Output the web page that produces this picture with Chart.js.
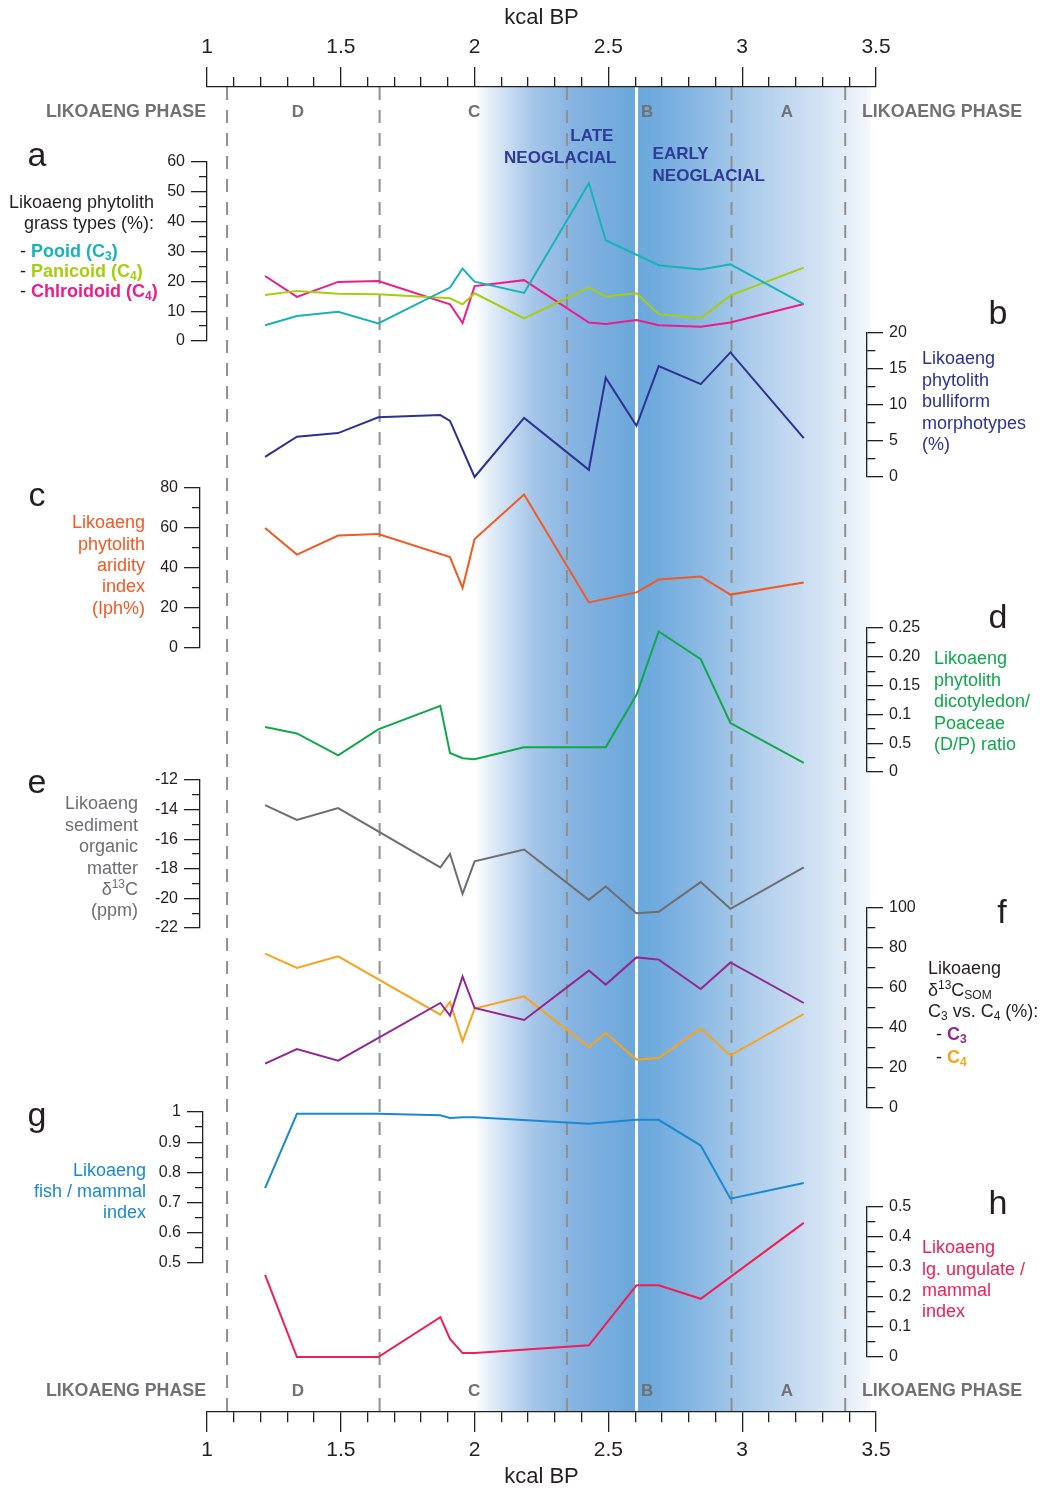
<!DOCTYPE html>
<html>
<head>
<meta charset="utf-8">
<title>Likoaeng records</title>
<script src="https://cdn.jsdelivr.net/npm/chart.js@4.4.0/dist/chart.umd.min.js"></script>
<style>
  html, body { margin: 0; padding: 0; background: #fff; }
</style>
</head>
<body>
<canvas id="chart" width="1044" height="1490"></canvas>
<script>
// Sample ages (kcal BP) shared by all the records
const ages = [1.217, 1.336, 1.49, 1.64, 1.872, 1.908, 1.955, 2.0, 2.185, 2.427, 2.49, 2.605, 2.688, 2.845, 2.956, 3.23];

// a - phytolith grass types (%)
const pooid      = [5.3, 8.4, 9.8, 5.9, null, 17.9, 24.3, 19.9, 16.1, 52.9, 33.8, null, 25.4, 24.0, 25.7, 12.4];
const panicoid   = [15.4, 16.8, 15.8, 15.7, null, 14.3, 12.3, 16.0, 7.6, 17.9, 14.9, 16.0, 9.0, 7.6, 15.3, 24.6];
const chloridoid = [21.8, 14.8, 19.8, 20.1, null, 12.3, 6.0, 18.4, 20.4, 6.2, 5.7, 7.0, 5.3, 4.8, 6.2, 12.4];
// b - bulliform morphotypes (%)
const bulliform = [2.8, 5.6, 6.1, 8.3, 8.6, 7.8, null, 0.0, 8.2, 1.0, 13.8, 7.1, 15.4, 12.9, 17.3, 5.4];
// c - aridity index (Iph%)
const aridity = [60.0, 46.7, 56.2, 57.0, null, 45.5, 30.0, 54.5, 76.7, 22.8, null, 27.8, 34.2, 35.8, 26.7, 32.7];
// d - dicotyledon / Poaceae ratio
const dpRatio = [0.078, 0.067, 0.029, 0.074, 0.115, 0.033, 0.024, 0.022, 0.043, null, 0.043, 0.134, 0.244, 0.196, 0.085, 0.016];
// e - sediment organic matter d13C
const somD13C = [-13.7, -14.7, -13.9, null, -17.9, -17.0, -19.7, -17.5, -16.7, -20.1, -19.2, -21.0, -20.9, -18.9, -20.7, -17.9];
// f - C3 vs C4 (%)
const c3Share = [22.2, 29.5, 23.7, null, 52.5, 46.2, 65.8, 50.0, 44.0, 68.7, 61.7, 75.3, 74.2, 59.5, 72.8, 52.5];
const c4Share = [77.2, 70.0, 75.8, null, 46.7, 53.0, 33.3, 49.7, 55.8, 30.5, 37.5, 24.2, 25.0, 39.7, 26.3, 47.0];
// g - fish / mammal index
const fishIndex = [0.748, 0.994, null, 0.994, 0.989, 0.980, 0.983, 0.983, null, 0.961, null, 0.974, 0.974, 0.889, 0.713, 0.765];
// h - large ungulate / mammal index
const ungulateIndex = [0.274, 0, null, 0, 0.133, 0.060, 0.013, 0.013, null, 0.039, null, 0.239, 0.239, 0.194, null, 0.447];

// Tick labels
const ageTicks = [1, 1.5, 2, 2.5, 3, 3.5];
const grassTicks = [0, 10, 20, 30, 40, 50, 60];
const bulliformTicks = [0, 5, 10, 15, 20];
const aridityTicks = [0, 20, 40, 60, 80];
const dpTicks = [0, 0.05, 0.1, 0.15, 0.2, 0.25];
const dpTickLabels = ['0', '0.5', '0.1', '0.15', '0.20', '0.25'];
const somTicks = [-22, -20, -18, -16, -14, -12];
const c3c4Ticks = [0, 20, 40, 60, 80, 100];
const fishTicks = [0.5, 0.6, 0.7, 0.8, 0.9, 1];
const ungulateTicks = [0, 0.1, 0.2, 0.3, 0.4, 0.5];

// Likoaeng phases
const phaseBounds = [1.075, 1.645, 2.345, 2.96, 3.385];
const phaseLetters = ['D', 'C', 'B', 'A'];
const phaseCentres = [1.34, 1.998, 2.645, 3.167];
const neoglacialSplit = 2.605;

const FONT = "'Liberation Sans', Arial, Helvetica, sans-serif";
const INK = '#231f20';

// where each panel's y axis sits on the page
const panelAxes = [
  { id: 'yGrass', side: 'left', ticks: grassTicks, top: 162, bottom: 341, x: 207 },
  { id: 'yBulliform', side: 'right', ticks: bulliformTicks, top: 333, bottom: 477, x: 867 },
  { id: 'yAridity', side: 'left', ticks: aridityTicks, top: 488, bottom: 648, x: 200 },
  { id: 'yDP', side: 'right', ticks: dpTicks, labels: dpTickLabels, top: 628, bottom: 772, x: 867 },
  { id: 'ySOM', side: 'left', ticks: somTicks, top: 780, bottom: 928, x: 200 },
  { id: 'yC3C4', side: 'right', ticks: c3c4Ticks, top: 908, bottom: 1108, x: 867 },
  { id: 'yFish', side: 'left', ticks: fishTicks, top: 1112, bottom: 1263, x: 203 },
  { id: 'yUngulate', side: 'right', ticks: ungulateTicks, top: 1207, bottom: 1357, x: 867 }
];

const series = [
  { label: 'Pooid (C3)', values: pooid, color: '#17b3b7', axis: 'yGrass' },
  { label: 'Panicoid (C4)', values: panicoid, color: '#a6ce0c', axis: 'yGrass' },
  { label: 'Chlroidoid (C4)', values: chloridoid, color: '#ec1c8b', axis: 'yGrass' },
  { label: 'Bulliform', values: bulliform, color: '#2e3192', axis: 'yBulliform' },
  { label: 'Aridity', values: aridity, color: '#f15a24', axis: 'yAridity' },
  { label: 'D/P', values: dpRatio, color: '#10a84b', axis: 'yDP' },
  { label: 'SOM d13C', values: somD13C, color: '#6d6e71', axis: 'ySOM' },
  { label: 'C3', values: c3Share, color: '#92278f', axis: 'yC3C4' },
  { label: 'C4', values: c4Share, color: '#f9a21b', axis: 'yC3C4' },
  { label: 'Fish / mammal', values: fishIndex, color: '#1a89d1', axis: 'yFish' },
  { label: 'Ungulate / mammal', values: ungulateIndex, color: '#ee1f55', axis: 'yUngulate' }
];

function withMinor(major, parts) {
  const out = [];
  major.forEach((v, i) => {
    out.push(v);
    if (i < major.length - 1) {
      for (let j = 1; j < parts; j++) out.push(v + (major[i + 1] - v) * j / parts);
    }
  });
  return out;
}

function majorIndex(v, major) {
  const tol = Math.abs(major[1] - major[0]) * 1e-4;
  return major.findIndex(t => Math.abs(t - v) < tol);
}

function ageAxis(position) {
  const top = position === 'top';
  return {
    type: 'linear', position, min: 1, max: 3.5,
    afterBuildTicks: s => { s.ticks = withMinor(ageTicks, 5).map(value => ({ value })); },
    afterFit: s => { s.height = top ? 87 : 78; s.paddingLeft = 0; s.paddingRight = 0; },
    ticks: {
      autoSkip: false, maxRotation: 0, padding: top ? 7 : 6, color: INK,
      font: { family: FONT, size: 21 },
      callback: v => majorIndex(v, ageTicks) >= 0 ? String(v) : ''
    },
    grid: {
      drawOnChartArea: false, tickLength: 20, color: INK, lineWidth: 1.3,
      tickBorderDash: c => majorIndex(c.tick.value, ageTicks) >= 0 ? [] : (top ? [0, 10, 10, 0] : [10, 100])
    },
    border: { display: true, color: INK, width: 1.3 },
    title: {
      display: true, text: 'kcal BP', color: INK, font: { family: FONT, size: 22 },
      padding: top ? { top: 5, bottom: 0 } : { top: 0, bottom: 0 }
    }
  };
}

function panelAxis(p) {
  const left = p.side === 'left';
  return {
    type: 'linear', position: p.side, min: p.ticks[0], max: p.ticks[p.ticks.length - 1],
    afterBuildTicks: s => { s.ticks = withMinor(p.ticks, 2).map(value => ({ value })); },
    afterFit: s => { s.width = 0; s.paddingTop = 0; s.paddingBottom = 0; },
    ticks: {
      autoSkip: false, padding: 6, color: INK, font: { family: FONT, size: 16 },
      callback: v => {
        const i = majorIndex(v, p.ticks);
        if (i < 0) return '';
        return p.labels ? p.labels[i] : String(p.ticks[i]);
      }
    },
    grid: {
      drawOnChartArea: false, tickLength: 16, color: INK, lineWidth: 1.3,
      tickBorderDash: c => majorIndex(c.tick.value, p.ticks) >= 0 ? [] : (left ? [0, 8, 8, 0] : [8, 100])
    },
    border: { display: true, color: INK, width: 1.3 }
  };
}

const scales = { x: ageAxis('bottom'), xTop: ageAxis('top') };
panelAxes.forEach(p => { scales[p.id] = panelAxis(p); });

const datasets = series.map(s => ({
  label: s.label,
  data: ages.map((a, i) => ({ x: a, y: s.values[i] })).filter(pt => pt.y !== null),
  xAxisID: 'x',
  yAxisID: s.axis,
  borderColor: s.color,
  borderWidth: 2,
  pointRadius: 0,
  tension: 0,
  fill: false,
  clip: false
}));

// Put each panel's y axis into its own band of the page.
// The box keeps some width on the label side, since labels are clipped to it.
const panelPlacement = {
  id: 'panelPlacement',
  afterLayout(chart) {
    panelAxes.forEach(p => {
      const s = chart.scales[p.id];
      s.top = p.top; s.bottom = p.bottom; s.height = p.bottom - p.top;
      if (p.side === 'left') { s.left = p.x - 80; s.right = p.x; }
      else { s.left = p.x; s.right = p.x + 80; }
      s.width = 80;
      s.configure();
    });
  }
};

// Neoglacial shading and phase boundaries
const backdrop = {
  id: 'backdrop',
  beforeDraw(chart) {
    const { ctx, chartArea } = chart;
    const xs = chart.scales.x;
    const top = chartArea.top, h = chartArea.bottom - chartArea.top;
    const x0 = xs.getPixelForValue(2.0);
    const xm = xs.getPixelForValue(neoglacialSplit);
    const x1 = xs.getPixelForValue(3.48);
    ctx.save();
    let g = ctx.createLinearGradient(x0, 0, xm, 0);
    g.addColorStop(0, '#ffffff');
    g.addColorStop(0.15, '#d6e5f5');
    g.addColorStop(0.35, '#a8c7e9');
    g.addColorStop(0.6, '#87b4e1');
    g.addColorStop(1, '#6aa7db');
    ctx.fillStyle = g;
    ctx.fillRect(x0, top, xm - x0, h);
    g = ctx.createLinearGradient(xm, 0, x1, 0);
    g.addColorStop(0, '#6aa8dc');
    g.addColorStop(0.1, '#72acde');
    g.addColorStop(0.27, '#8bb9e3');
    g.addColorStop(0.4, '#9fc5e8');
    g.addColorStop(0.55, '#b5d1ed');
    g.addColorStop(0.7, '#c8dcf1');
    g.addColorStop(0.85, '#dde9f6');
    g.addColorStop(1, '#f5f8fc');
    ctx.fillStyle = g;
    ctx.fillRect(xm, top, x1 - xm, h);

    ctx.strokeStyle = '#8f8f8f';
    ctx.lineWidth = 2;
    ctx.setLineDash([13, 10]);
    phaseBounds.forEach(v => {
      const x = xs.getPixelForValue(v);
      ctx.beginPath(); ctx.moveTo(x, top); ctx.lineTo(x, chartArea.bottom); ctx.stroke();
    });
    ctx.setLineDash([]);
    ctx.strokeStyle = '#ffffff';
    ctx.lineWidth = 3;
    ctx.beginPath(); ctx.moveTo(xm, top); ctx.lineTo(xm, chartArea.bottom); ctx.stroke();
    ctx.restore();
  }
};

// rich text: parts are [text, colour, bold, 'sub'|'sup']
function drawRich(ctx, x, y, align, size, parts) {
  const fontFor = p => `${p[2] ? 'bold ' : ''}${p[3] ? Math.round(size * 0.68) : size}px ${FONT}`;
  let w = 0;
  parts.forEach(p => { ctx.font = fontFor(p); w += ctx.measureText(p[0]).width; });
  let cx = align === 'right' ? x - w : align === 'center' ? x - w / 2 : x;
  const base = y + size * 0.35;
  ctx.textAlign = 'left';
  ctx.textBaseline = 'alphabetic';
  parts.forEach(p => {
    ctx.font = fontFor(p);
    ctx.fillStyle = p[1];
    const by = p[3] === 'sub' ? base + size * 0.17 : p[3] === 'sup' ? base - size * 0.38 : base;
    ctx.fillText(p[0], cx, by);
    cx += ctx.measureText(p[0]).width;
  });
}

const CYAN = '#17b3b7', LIME = '#a6ce0c', PINK = '#ec1c8b', NAVY = '#2e3192', ORANGE = '#f15a24';
const GREEN = '#10a84b', GREY = '#6d6e71', PURPLE = '#92278f', AMBER = '#f9a21b', BLUE = '#1a89d1', RED = '#ee1f55';
const PHASE = '#707173', NEO = '#2e3b96';

function lines(x, y0, step, align, color, texts) {
  return texts.map((t, i) => ({ x, y: y0 + i * step, align, size: 18, parts: typeof t === 'string' ? [[t, color]] : t }));
}

const notes = [].concat(
  lines(154, 202, 21, 'right', INK, ['Likoaeng phytolith', 'grass types (%):']),
  lines(20, 251, 20, 'left', INK, [
    [['- ', INK], ['Pooid (C', CYAN, true], ['3', CYAN, true, 'sub'], [')', CYAN, true]],
    [['- ', INK], ['Panicoid (C', LIME, true], ['4', LIME, true, 'sub'], [')', LIME, true]],
    [['- ', INK], ['Chlroidoid (C', PINK, true], ['4', PINK, true, 'sub'], [')', PINK, true]]
  ]),
  lines(922, 358, 21.5, 'left', NAVY, ['Likoaeng', 'phytolith', 'bulliform', 'morphotypes', '(%)']),
  lines(145, 522, 21.3, 'right', ORANGE, ['Likoaeng', 'phytolith', 'aridity', 'index', '(Iph%)']),
  lines(934, 658, 21.5, 'left', GREEN, ['Likoaeng', 'phytolith', 'dicotyledon/', 'Poaceae', '(D/P) ratio']),
  lines(138, 803, 21.4, 'right', GREY, ['Likoaeng', 'sediment', 'organic', 'matter',
    [['δ', GREY], ['13', GREY, false, 'sup'], ['C', GREY]], '(ppm)']),
  lines(928, 968, 21.5, 'left', INK, ['Likoaeng',
    [['δ', INK], ['13', INK, false, 'sup'], ['C', INK], ['SOM', INK, false, 'sub']],
    [['C', INK], ['3', INK, false, 'sub'], [' vs. C', INK], ['4', INK, false, 'sub'], [' (%):', INK]]]),
  lines(936, 1034, 23, 'left', INK, [
    [['- ', INK], ['C', PURPLE, true], ['3', PURPLE, true, 'sub']],
    [['- ', INK], ['C', AMBER, true], ['4', AMBER, true, 'sub']]
  ]),
  lines(146, 1170, 21, 'right', BLUE, ['Likoaeng', 'fish / mammal', 'index']),
  lines(922, 1247, 21.3, 'left', RED, ['Likoaeng', 'lg. ungulate /', 'mammal', 'index'])
);

const panelLetters = [
  ['a', 37, 154], ['b', 998, 312], ['c', 37, 494], ['d', 998, 616],
  ['e', 37, 781], ['f', 1002, 911], ['g', 37, 1114], ['h', 998, 1202]
];

const annotations = {
  id: 'annotations',
  afterDraw(chart) {
    const { ctx, chartArea } = chart;
    const xs = chart.scales.x;
    ctx.save();
    // phase labels top and bottom
    [111, 1390].forEach(y => {
      drawRich(ctx, chartArea.left - 1, y, 'right', 17.8, [['LIKOAENG PHASE', PHASE, true]]);
      drawRich(ctx, 862, y, 'left', 17.8, [['LIKOAENG PHASE', PHASE, true]]);
      phaseLetters.forEach((l, i) => {
        drawRich(ctx, xs.getPixelForValue(phaseCentres[i]), y, 'center', 17, [[l, PHASE, true]]);
      });
    });
    drawRich(ctx, xs.getPixelForValue(2.438), 135, 'center', 17, [['LATE', NEO, true]]);
    drawRich(ctx, xs.getPixelForValue(2.32), 157, 'center', 17, [['NEOGLACIAL', NEO, true]]);
    drawRich(ctx, xs.getPixelForValue(2.665), 153, 'left', 17, [['EARLY', NEO, true]]);
    drawRich(ctx, xs.getPixelForValue(2.665), 175, 'left', 17, [['NEOGLACIAL', NEO, true]]);

    notes.forEach(n => drawRich(ctx, n.x, n.y, n.align, n.size, n.parts));
    panelLetters.forEach(([l, x, y]) => drawRich(ctx, x, y, 'center', 34, [[l, INK]]));
    ctx.restore();
  }
};

new Chart(document.getElementById('chart'), {
  type: 'line',
  data: { datasets },
  options: {
    responsive: false,
    animation: false,
    events: [],
    layout: { padding: { left: 207, right: 168, top: 0, bottom: 0 } },
    plugins: { legend: { display: false }, tooltip: { enabled: false } },
    scales
  },
  plugins: [panelPlacement, backdrop, annotations]
});
</script>
</body>
</html>
